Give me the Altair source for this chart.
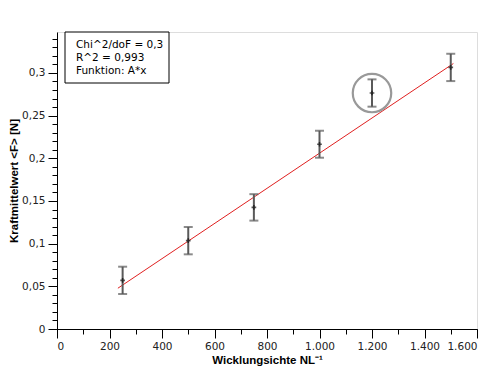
import altair as alt
import pandas as pd

# data
wicklung = [250, 500, 750, 1000, 1200, 1500]
kraft = [0.057, 0.1035, 0.1425, 0.2165, 0.2765, 0.3065]
fehler = [0.016, 0.016, 0.0155, 0.0158, 0.016, 0.016]
fit_A = 0.000206
fit_x = [232, 1510]
x_major = [0, 200, 400, 600, 800, 1000, 1200, 1400, 1600]
x_minor = list(range(0, 1601, 100))
y_major = [0, 0.05, 0.1, 0.15, 0.2, 0.25, 0.3]
y_minor = [round(i * 0.01, 2) for i in range(0, 35)]
info_lines = ["Chi^2/doF = 0,3", "R^2 = 0,993", "Funktion: A*x"]
highlight_x = 1200

df = pd.DataFrame({"x": wicklung, "y": kraft, "e": fehler})
df["lo"] = df["y"] - df["e"]
df["hi"] = df["y"] + df["e"]
fit_df = pd.DataFrame({"x": fit_x, "y": [fit_A * v for v in fit_x]})
hl_df = df[df["x"] == highlight_x]

FONT = "DejaVu Sans"
TFONT = "Liberation Sans"
W, H = 420, 297
xscale = alt.Scale(domain=[0, 1600], nice=False, zero=True)
yscale = alt.Scale(domain=[0, 0.348], nice=False, zero=True)

x_label_expr = "replace(format(datum.value, ','), ',', '.')"
y_label_expr = "replace(format(datum.value, ''), '.', ',')"

xaxis_major = alt.Axis(values=x_major, tickSize=9, labelExpr=x_label_expr,
                       title="Wicklungsichte NL⁻¹", titleFont=TFONT, titleFontSize=11.5,
                       titleFontWeight="bold", titleColor="black", titlePadding=3,
                       labelFont=FONT, labelFontSize=10.5, labelColor="#222",
                       domainColor="black", tickColor="black", grid=False, labelPadding=3,
                       orient="bottom")
xaxis_minor = alt.Axis(values=x_minor, tickSize=5, labels=False, title=None, domain=False,
                       tickColor="black", grid=False, orient="bottom")
yaxis_major = alt.Axis(values=y_major, tickSize=9, labelExpr=y_label_expr,
                       title="Kraftmittelwert <F> [N]", titleFont=TFONT, titleFontSize=11.5,
                       titleFontWeight="bold", titleColor="black", titlePadding=2,
                       labelFont=FONT, labelFontSize=10.5, labelColor="#222",
                       domainColor="black", tickColor="black", grid=False, labelPadding=3,
                       orient="left")
yaxis_minor = alt.Axis(values=y_minor, tickSize=5, labels=False, title=None, domain=False,
                       tickColor="black", grid=False, orient="left")

base = alt.Chart(df)

axes_major = base.mark_point(opacity=0).encode(
    x=alt.X("x:Q", scale=xscale, axis=xaxis_major),
    y=alt.Y("y:Q", scale=yscale, axis=yaxis_major),
)
axes_minor = base.mark_point(opacity=0).encode(
    x=alt.X("x:Q", scale=xscale, axis=xaxis_minor),
    y=alt.Y("y:Q", scale=yscale, axis=yaxis_minor),
)

fit = alt.Chart(fit_df).mark_line(color="#e02020", strokeWidth=1).encode(
    x=alt.X("x:Q", scale=xscale, axis=None),
    y=alt.Y("y:Q", scale=yscale, axis=None),
)

bars = base.mark_rule(color="#5a5a5a", strokeWidth=2).encode(
    x=alt.X("x:Q", scale=xscale, axis=None),
    y=alt.Y("lo:Q", scale=yscale, axis=None),
    y2="hi:Q",
)
cap_lo = base.mark_tick(orient="horizontal", size=9, thickness=2, color="#5a5a5a").encode(
    x=alt.X("x:Q", scale=xscale, axis=None),
    y=alt.Y("lo:Q", scale=yscale, axis=None),
)
cap_hi = base.mark_tick(orient="horizontal", size=9, thickness=2, color="#5a5a5a").encode(
    x=alt.X("x:Q", scale=xscale, axis=None),
    y=alt.Y("hi:Q", scale=yscale, axis=None),
)
centers = base.mark_point(shape="M-1,0L1,0M0,-1L0,1", size=22, color="#111",
                          strokeWidth=1.6, filled=False).encode(
    x=alt.X("x:Q", scale=xscale, axis=None),
    y=alt.Y("y:Q", scale=yscale, axis=None),
)
highlight = alt.Chart(hl_df).mark_point(shape="circle", size=1480, filled=False,
                                        color="#999999", strokeWidth=2.2, opacity=1).encode(
    x=alt.X("x:Q", scale=xscale, axis=None),
    y=alt.Y("y:Q", scale=yscale, axis=None),
)

box = alt.Chart(hl_df).mark_rect(fill="white", stroke="black", strokeWidth=1).encode(
    x=alt.value(8), x2=alt.value(112), y=alt.value(0), y2=alt.value(51),
)
info_layers = []
for i, line in enumerate(info_lines):
    info_layers.append(
        alt.Chart(hl_df).mark_text(align="left", baseline="middle", font=FONT,
                                   fontSize=10.5, color="black", text=line).encode(
            x=alt.value(19), y=alt.value(13 + 13 * i),
        )
    )

chart = alt.layer(
    axes_minor, axes_major, fit, bars, cap_lo, cap_hi, centers, highlight, box, *info_layers
).resolve_axis(x="independent", y="independent").properties(
    width=W, height=H,
    autosize=alt.AutoSizeParams(type="none"),
    padding={"left": 49, "top": 24, "right": 10, "bottom": 40},
).configure_view(stroke=None).configure(background="white")

chart.save("out.html", embed_options={"renderer": "svg", "actions": False})
